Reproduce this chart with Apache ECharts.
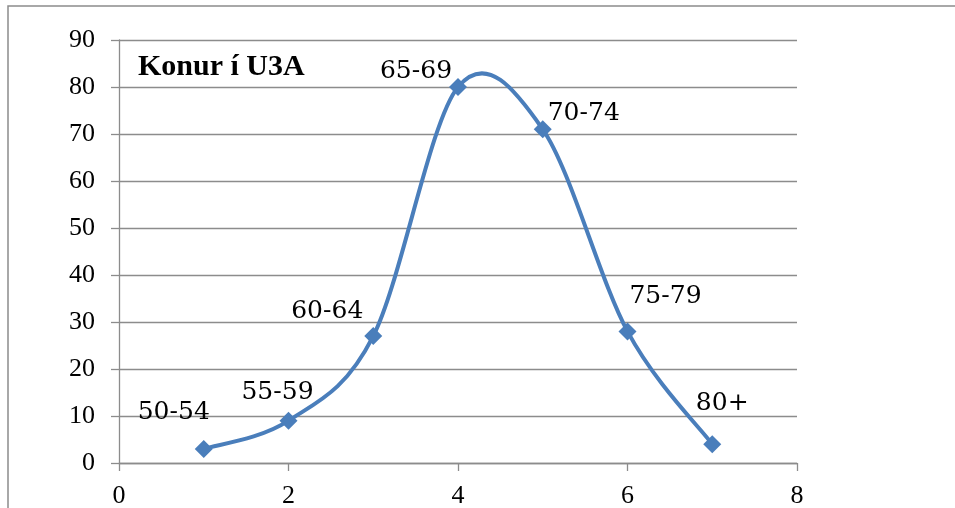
<!DOCTYPE html>
<html><head><meta charset="utf-8">
<script src="https://cdn.jsdelivr.net/npm/echarts@6/dist/echarts.min.js"></script>
<style>html,body{margin:0;padding:0;background:#fff}#c{width:955px;height:508px}</style>
</head><body><div id="c"></div>
<script>
const xValues = [1, 2, 3, 4, 5, 6, 7];
const yValues = [3, 9, 27, 80, 71, 28, 4];
const ageGroups = ['50-54', '55-59', '60-64', '65-69', '70-74', '75-79', '80+'];
const labelOffsets = [[-30, -36], [-11, -28], [-46, -25], [-42, -16], [41, -16], [38, -35], [10, -41]];
const titleText = 'Konur í U3A';

const chart = echarts.init(document.getElementById('c'));
const tickFont = '"Liberation Serif", "DejaVu Serif", serif';
const labelFont = '"DejaVu Serif", "Liberation Serif", serif';
const blue = '#4a7ebb';

function renderSmooth(params, api) {
  const pts = xValues.map((x, i) => api.coord([x, yValues[i]]));
  const n = pts.length;
  const children = [];
  for (let i = 0; i < n - 1; i++) {
    const p0 = pts[Math.max(i - 1, 0)], p1 = pts[i], p2 = pts[i + 1], p3 = pts[Math.min(i + 2, n - 1)];
    children.push({
      type: 'bezierCurve',
      shape: {
        x1: p1[0], y1: p1[1], x2: p2[0], y2: p2[1],
        cpx1: p1[0] + (p2[0] - p0[0]) / 6, cpy1: p1[1] + (p2[1] - p0[1]) / 6,
        cpx2: p2[0] - (p3[0] - p1[0]) / 6, cpy2: p2[1] - (p3[1] - p1[1]) / 6
      },
      style: { stroke: blue, fill: null, lineWidth: 4 }
    });
  }
  return { type: 'group', children };
}

chart.setOption({
  animation: false,
  grid: { left: 119, right: 158, top: 40, bottom: 45, containLabel: false, outerBoundsMode: 'none' },
  graphic: [
    { type: 'rect', shape: { x: 8, y: 6, width: 2000, height: 1000 }, style: { fill: 'none', stroke: '#8c8c8c', lineWidth: 1.5 }, silent: true },
    { type: 'text', left: 138, top: 52, style: { text: titleText, font: 'bold 30px ' + tickFont, fill: '#000' } }
  ],
  xAxis: {
    type: 'value', min: 0, max: 8, interval: 2,
    axisLine: { show: true, lineStyle: { color: '#8c8c8c', width: 1.3 } },
    axisTick: { show: true, length: 8, lineStyle: { color: '#8c8c8c', width: 1.3 } },
    splitLine: { show: false },
    axisLabel: { fontFamily: tickFont, fontSize: 26, color: '#000', margin: 20 }
  },
  yAxis: {
    type: 'value', min: 0, max: 90, interval: 10,
    axisLine: { show: true, lineStyle: { color: '#8c8c8c', width: 1.3 } },
    axisTick: { show: true, length: 8, lineStyle: { color: '#8c8c8c', width: 1.3 } },
    splitLine: { show: true, lineStyle: { color: '#8c8c8c', width: 1.3 } },
    axisLabel: { fontFamily: tickFont, fontSize: 26, color: '#000', margin: 24 }
  },
  series: [
    {
      type: 'custom',
      data: [0],
      renderItem: renderSmooth,
      z: 2,
      silent: true
    },
    {
      type: 'scatter',
      z: 3,
      data: xValues.map((x, i) => ({
        value: [x, yValues[i]],
        label: { show: true, formatter: ageGroups[i], offset: labelOffsets[i] }
      })),
      symbol: 'diamond', symbolSize: 18,
      itemStyle: { color: blue, opacity: 1 },
      label: { position: 'inside', fontFamily: labelFont, fontSize: 25, color: '#000' }
    }
  ]
});
</script></body></html>
